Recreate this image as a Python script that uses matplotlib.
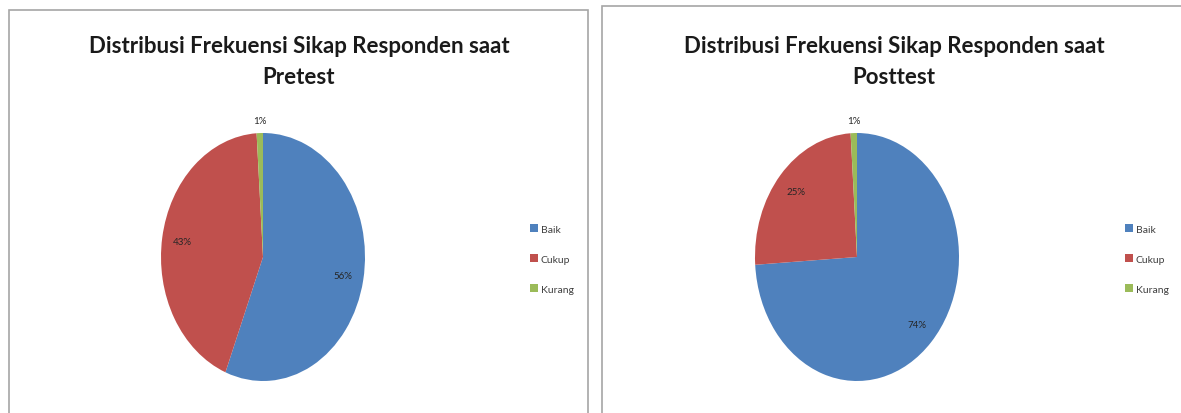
import numpy as np
import matplotlib.pyplot as plt
from matplotlib.patches import Rectangle

# data
categories = ["Baik", "Cukup", "Kurang"]
pretest = [56, 43, 1]
posttest = [74, 25, 1]
titles = ["Distribusi Frekuensi Sikap Responden saat\nPretest",
          "Distribusi Frekuensi Sikap Responden saat\nPosttest"]
colors = ["#4F81BD", "#C0504D", "#9BBB59"]

W, H = 1181, 414
fig = plt.figure(figsize=(W/100, H/100), dpi=100)

# panel frames (pixel coords, top origin)
frames = [(9, 11, 588), (602, 7, 1185)]
for x0, y0, x1 in frames:
    rect = Rectangle((x0/W, -0.05), (x1-x0)/W, (H-y0)/H + 0.05, transform=fig.transFigure,
                     fill=False, edgecolor="#a6a6a6", linewidth=1.2)
    fig.patches.append(rect)

centers = [263, 857]
title_x = [299, 894]
legend_x = [525, 1120]
datasets = [pretest, posttest]

for i in range(2):
    cx = centers[i]
    ax = fig.add_axes([(cx-102)/W, (H-382)/H, 204/W, 248/H])
    wedges, texts, autotexts = ax.pie(datasets[i], colors=colors, startangle=90, counterclock=False,
                                      autopct=lambda p: "{:.0f}%".format(p), pctdistance=0.8,
                                      textprops={"fontsize": 7, "color": "#262626", "family": "Lato"})
    # small slice label sits outside the pie
    w = wedges[2]
    mid = np.deg2rad((w.theta1 + w.theta2) / 2)
    autotexts[2].set_position((1.1*np.cos(mid), 1.1*np.sin(mid)))
    ax.set_aspect("auto")
    ax.set_xlim(-1, 1)
    ax.set_ylim(-1, 1)
    ax.axis("off")

    fig.text(title_x[i]/W, (H-62)/H, titles[i], ha="center", va="center", fontsize=16,
             fontweight="bold", family="Lato", color="#1a1a1a", linespacing=1.6)

    fig.legend(wedges, categories, loc="center left", bbox_to_anchor=(legend_x[i]/W, (H-260)/H),
               bbox_transform=fig.transFigure, frameon=False, borderpad=0,
               handlelength=0.7, handleheight=0.7, handletextpad=0.3, labelspacing=2.0,
               labelcolor="#404040", prop={"family": "Lato", "size": 7.5})

fig.savefig("out.png", dpi=100)
